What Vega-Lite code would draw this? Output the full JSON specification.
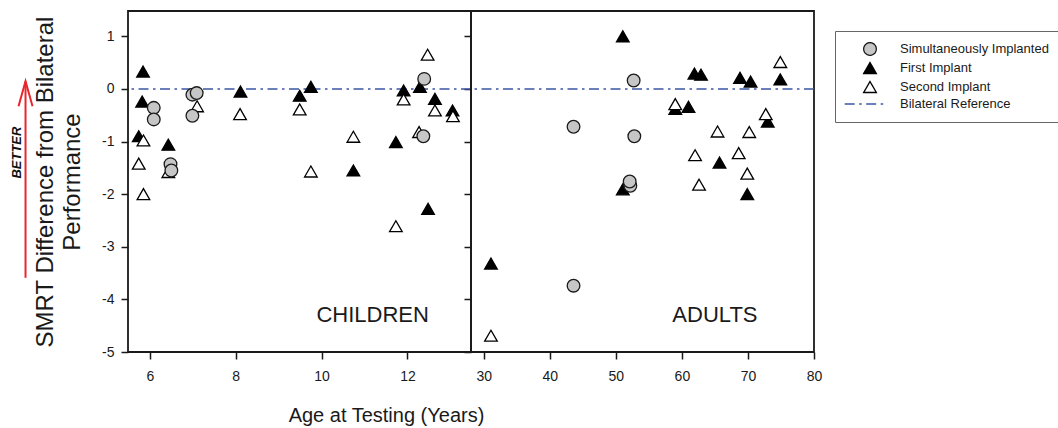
{
  "$schema": "https://vega.github.io/schema/vega-lite/v6.json",
  "padding": {"left": 10, "top": 10, "right": 0, "bottom": 0},
  "background": "white",
  "spacing": 0,
  "bounds": "flush",
  "datasets": {
    "pts": [
      {"panel": "Children", "group": "First Implant", "age": 5.84, "smrt": 0.33},
      {"panel": "Children", "group": "First Implant", "age": 5.82, "smrt": -0.24},
      {"panel": "Children", "group": "First Implant", "age": 5.74, "smrt": -0.9},
      {"panel": "Children", "group": "First Implant", "age": 6.43, "smrt": -1.06},
      {"panel": "Children", "group": "First Implant", "age": 8.11, "smrt": -0.05},
      {"panel": "Children", "group": "First Implant", "age": 9.49, "smrt": -0.13},
      {"panel": "Children", "group": "First Implant", "age": 9.75, "smrt": 0.04},
      {"panel": "Children", "group": "First Implant", "age": 10.74, "smrt": -1.55},
      {"panel": "Children", "group": "First Implant", "age": 11.73, "smrt": -1.01},
      {"panel": "Children", "group": "First Implant", "age": 11.91, "smrt": -0.03},
      {"panel": "Children", "group": "First Implant", "age": 12.29, "smrt": 0.04},
      {"panel": "Children", "group": "First Implant", "age": 12.64, "smrt": -0.19},
      {"panel": "Children", "group": "First Implant", "age": 13.05, "smrt": -0.41},
      {"panel": "Children", "group": "First Implant", "age": 12.48, "smrt": -2.28},
      {"panel": "Children", "group": "Second Implant", "age": 12.47, "smrt": 0.65},
      {"panel": "Children", "group": "Second Implant", "age": 5.74, "smrt": -1.42},
      {"panel": "Children", "group": "Second Implant", "age": 5.85, "smrt": -0.98},
      {"panel": "Children", "group": "Second Implant", "age": 5.85, "smrt": -2.0},
      {"panel": "Children", "group": "Second Implant", "age": 6.43, "smrt": -1.58},
      {"panel": "Children", "group": "Second Implant", "age": 7.1, "smrt": -0.33},
      {"panel": "Children", "group": "Second Implant", "age": 8.1, "smrt": -0.48},
      {"panel": "Children", "group": "Second Implant", "age": 9.49, "smrt": -0.39},
      {"panel": "Children", "group": "Second Implant", "age": 9.75, "smrt": -1.57},
      {"panel": "Children", "group": "Second Implant", "age": 10.74, "smrt": -0.91},
      {"panel": "Children", "group": "Second Implant", "age": 11.91, "smrt": -0.2},
      {"panel": "Children", "group": "Second Implant", "age": 12.27, "smrt": -0.82},
      {"panel": "Children", "group": "Second Implant", "age": 12.64, "smrt": -0.41},
      {"panel": "Children", "group": "Second Implant", "age": 13.06, "smrt": -0.52},
      {"panel": "Children", "group": "Second Implant", "age": 11.73, "smrt": -2.61},
      {"panel": "Children", "group": "Simultaneously Implanted", "age": 6.09, "smrt": -0.36},
      {"panel": "Children", "group": "Simultaneously Implanted", "age": 6.09, "smrt": -0.58},
      {"panel": "Children", "group": "Simultaneously Implanted", "age": 6.48, "smrt": -1.43},
      {"panel": "Children", "group": "Simultaneously Implanted", "age": 6.5, "smrt": -1.55},
      {"panel": "Children", "group": "Simultaneously Implanted", "age": 6.99, "smrt": -0.11},
      {"panel": "Children", "group": "Simultaneously Implanted", "age": 7.09, "smrt": -0.08},
      {"panel": "Children", "group": "Simultaneously Implanted", "age": 6.99, "smrt": -0.51},
      {"panel": "Children", "group": "Simultaneously Implanted", "age": 12.39, "smrt": 0.19},
      {"panel": "Children", "group": "Simultaneously Implanted", "age": 12.37, "smrt": -0.9},
      {"panel": "Adults", "group": "First Implant", "age": 51.06, "smrt": 1.0},
      {"panel": "Adults", "group": "First Implant", "age": 61.9, "smrt": 0.29},
      {"panel": "Adults", "group": "First Implant", "age": 62.9, "smrt": 0.27},
      {"panel": "Adults", "group": "First Implant", "age": 68.8, "smrt": 0.21},
      {"panel": "Adults", "group": "First Implant", "age": 70.4, "smrt": 0.14},
      {"panel": "Adults", "group": "First Implant", "age": 74.9, "smrt": 0.18},
      {"panel": "Adults", "group": "First Implant", "age": 59.0, "smrt": -0.38},
      {"panel": "Adults", "group": "First Implant", "age": 61.0, "smrt": -0.34},
      {"panel": "Adults", "group": "First Implant", "age": 73.0, "smrt": -0.62},
      {"panel": "Adults", "group": "First Implant", "age": 65.7, "smrt": -1.4},
      {"panel": "Adults", "group": "First Implant", "age": 51.06, "smrt": -1.91},
      {"panel": "Adults", "group": "First Implant", "age": 69.9, "smrt": -2.0},
      {"panel": "Adults", "group": "First Implant", "age": 31.1, "smrt": -3.32},
      {"panel": "Adults", "group": "Second Implant", "age": 74.9, "smrt": 0.51},
      {"panel": "Adults", "group": "Second Implant", "age": 59.0, "smrt": -0.29},
      {"panel": "Adults", "group": "Second Implant", "age": 72.7, "smrt": -0.48},
      {"panel": "Adults", "group": "Second Implant", "age": 65.4, "smrt": -0.81},
      {"panel": "Adults", "group": "Second Implant", "age": 70.2, "smrt": -0.82},
      {"panel": "Adults", "group": "Second Implant", "age": 62.0, "smrt": -1.26},
      {"panel": "Adults", "group": "Second Implant", "age": 68.6, "smrt": -1.22},
      {"panel": "Adults", "group": "Second Implant", "age": 69.9, "smrt": -1.61},
      {"panel": "Adults", "group": "Second Implant", "age": 62.6, "smrt": -1.82},
      {"panel": "Adults", "group": "Second Implant", "age": 31.1, "smrt": -4.69},
      {"panel": "Adults", "group": "Simultaneously Implanted", "age": 52.7, "smrt": 0.16},
      {"panel": "Adults", "group": "Simultaneously Implanted", "age": 43.6, "smrt": -0.72},
      {"panel": "Adults", "group": "Simultaneously Implanted", "age": 52.8, "smrt": -0.9},
      {"panel": "Adults", "group": "Simultaneously Implanted", "age": 52.2, "smrt": -1.84},
      {"panel": "Adults", "group": "Simultaneously Implanted", "age": 52.1, "smrt": -1.76},
      {"panel": "Adults", "group": "Simultaneously Implanted", "age": 43.6, "smrt": -3.74}
    ],
    "ref": [{"group": "Bilateral Reference", "ref": 0}],
    "one": [{}]
  },
  "config": {
    "view": {"stroke": "#1a1a1a", "strokeWidth": 1.8},
    "font": "Liberation Sans",
    "axis": {
      "domain": false, "grid": false, "tickSize": 7, "tickWidth": 1.5, "tickColor": "#1a1a1a",
      "labelFont": "Liberation Sans", "labelFontSize": 14, "labelColor": "#1a1a1a", "labelFlush": false,
      "titleFont": "Liberation Sans", "titleFontWeight": "normal", "titleColor": "#1a1a1a"
    },
    "legend": {
      "orient": "none", "legendX": 707, "legendY": 20, "padding": 11,
      "strokeColor": "#666666", "strokeWidth": 1, "fillColor": "white",
      "labelFont": "Liberation Sans", "labelFontSize": 13, "labelColor": "#1a1a1a",
      "symbolSize": 160, "symbolStrokeWidth": 1.3, "symbolOffset": 17, "labelOffset": 23, "rowPadding": 1
    }
  },
  "hconcat": [
    {
      "width": 343, "height": 341,
      "resolve": {"axis": {"y": "independent"}},
      "layer": [
        {
          "data": {"name": "ref"},
          "mark": {"type": "rule", "strokeWidth": 1.5},
          "encoding": {
            "y": {"field": "ref", "type": "quantitative", "scale": {"domain": [-5, 1.48], "nice": false, "zero": false},
                  "axis": {"orient": "right", "values": [-5, -4, -3, -2, -1, 0, 1], "labels": false, "title": null, "offset": -7, "tickSize": 7, "minExtent": 0, "maxExtent": 0}},
            "stroke": {"field": "group", "type": "nominal", "legend": {"title": null},
                       "scale": {"domain": ["Simultaneously Implanted", "First Implant", "Second Implant", "Bilateral Reference"], "range": ["#1a1a1a", "#000000", "#000000", "#3b55a5"]}},
            "strokeDash": {"field": "group", "type": "nominal", "legend": {"title": null},
                       "scale": {"domain": ["Simultaneously Implanted", "First Implant", "Second Implant", "Bilateral Reference"], "range": [[1, 0], [1, 0], [1, 0], [10, 4.5, 2.5, 4.5]]}}
          }
        },
        {
          "layer": [
            {
              "data": {"name": "pts"},
              "transform": [{"filter": "datum.panel === 'Children'"}],
              "mark": {"type": "point", "filled": true, "opacity": 1, "strokeWidth": 1.3, "size": 160},
              "encoding": {
                "x": {"field": "age", "type": "quantitative", "scale": {"domain": [5.49, 13.48], "nice": false, "zero": false},
                      "axis": {"values": [6, 8, 10, 12], "labelPadding": 10, "title": "Age at Testing (Years)", "titleFontSize": 20,
                               "titleX": 258, "titleY": 69, "titleBaseline": "alphabetic", "titleAlign": "center"}},
                "y": {"field": "smrt", "type": "quantitative", "scale": {"domain": [-5, 1.48], "nice": false, "zero": false},
                      "axis": {"orient": "left", "values": [-5, -4, -3, -2, -1, 0, 1], "labelExpr": "'' + datum.value", "labelPadding": 7,
                               "title": ["SMRT Difference from Bilateral", "Performance"], "titleFontSize": 24, "titleLineHeight": 27,
                               "titleX": -70.6, "titleBaseline": "bottom"}},
                "shape": {"field": "group", "type": "nominal", "legend": {"title": null},
                          "scale": {"domain": ["Simultaneously Implanted", "First Implant", "Second Implant", "Bilateral Reference"], "range": ["circle", "triangle-up", "triangle-up", "M-4,0L2.7,0"]}},
                "fill": {"field": "group", "type": "nominal", "legend": {"title": null},
                         "scale": {"domain": ["Simultaneously Implanted", "First Implant", "Second Implant", "Bilateral Reference"], "range": ["#c6c6c6", "#000000", "#ffffff", "#ffffff"]}},
                "stroke": {"field": "group", "type": "nominal", "legend": {"title": null},
                           "scale": {"domain": ["Simultaneously Implanted", "First Implant", "Second Implant", "Bilateral Reference"], "range": ["#1a1a1a", "#000000", "#000000", "#3b55a5"]}}
              }
            },
            {
              "data": {"name": "one"},
              "mark": {"type": "rule", "stroke": "#e8262b", "strokeWidth": 2},
              "encoding": {
                "x": {"datum": 3.103, "type": "quantitative"},
                "y": {"datum": -3.59, "type": "quantitative"},
                "y2": {"datum": 0.14}
              }
            },
            {
              "data": {"name": "one"},
              "mark": {"type": "point", "shape": "M-0.56,1L0,-1L0.56,1", "size": 625, "filled": false, "stroke": "#e8262b", "strokeWidth": 2, "opacity": 1},
              "encoding": {
                "x": {"datum": 3.103, "type": "quantitative"},
                "y": {"datum": -0.093, "type": "quantitative"}
              }
            },
            {
              "data": {"name": "one"},
              "mark": {"type": "text", "text": "BETTER", "angle": 270, "fontSize": 13, "fontWeight": "bold", "fontStyle": "italic", "align": "center", "baseline": "middle", "color": "#111111"},
              "encoding": {
                "x": {"datum": 2.909, "type": "quantitative"},
                "y": {"datum": -1.211, "type": "quantitative"}
              }
            },
            {
              "data": {"name": "one"},
              "mark": {"type": "text", "text": "CHILDREN", "fontSize": 22, "align": "center", "baseline": "middle", "color": "#1a1a1a"},
              "encoding": {
                "x": {"datum": 11.19, "type": "quantitative"},
                "y": {"datum": -4.29, "type": "quantitative"}
              }
            }
          ]
        }
      ]
    },
    {
      "width": 343, "height": 341,
      "layer": [
        {
          "data": {"name": "ref"},
          "mark": {"type": "rule", "strokeWidth": 1.5},
          "encoding": {
            "y": {"field": "ref", "type": "quantitative", "scale": {"domain": [-5, 1.48], "nice": false, "zero": false}, "axis": null},
            "stroke": {"field": "group", "type": "nominal", "legend": {"title": null},
                       "scale": {"domain": ["Simultaneously Implanted", "First Implant", "Second Implant", "Bilateral Reference"], "range": ["#1a1a1a", "#000000", "#000000", "#3b55a5"]}},
            "strokeDash": {"field": "group", "type": "nominal", "legend": {"title": null},
                       "scale": {"domain": ["Simultaneously Implanted", "First Implant", "Second Implant", "Bilateral Reference"], "range": [[1, 0], [1, 0], [1, 0], [10, 4.5, 2.5, 4.5]]}}
          }
        },
        {
          "data": {"name": "pts"},
          "transform": [{"filter": "datum.panel === 'Adults'"}],
          "mark": {"type": "point", "filled": true, "opacity": 1, "strokeWidth": 1.3, "size": 160},
          "encoding": {
            "x": {"field": "age", "type": "quantitative", "scale": {"domain": [28.08, 80], "nice": false, "zero": false},
                  "axis": {"values": [30, 40, 50, 60, 70, 80], "labelPadding": 10, "title": null}},
            "y": {"field": "smrt", "type": "quantitative", "scale": {"domain": [-5, 1.48], "nice": false, "zero": false}, "axis": null},
            "shape": {"field": "group", "type": "nominal", "legend": {"title": null},
                      "scale": {"domain": ["Simultaneously Implanted", "First Implant", "Second Implant", "Bilateral Reference"], "range": ["circle", "triangle-up", "triangle-up", "M-4,0L2.7,0"]}},
            "fill": {"field": "group", "type": "nominal", "legend": {"title": null},
                     "scale": {"domain": ["Simultaneously Implanted", "First Implant", "Second Implant", "Bilateral Reference"], "range": ["#c6c6c6", "#000000", "#ffffff", "#ffffff"]}},
            "stroke": {"field": "group", "type": "nominal", "legend": {"title": null},
                       "scale": {"domain": ["Simultaneously Implanted", "First Implant", "Second Implant", "Bilateral Reference"], "range": ["#1a1a1a", "#000000", "#000000", "#3b55a5"]}}
          }
        },
        {
          "data": {"name": "one"},
          "mark": {"type": "text", "text": "ADULTS", "fontSize": 22, "align": "center", "baseline": "middle", "color": "#1a1a1a"},
          "encoding": {
            "x": {"datum": 65.0, "type": "quantitative"},
            "y": {"datum": -4.29, "type": "quantitative", "axis": null}
          }
        }
      ]
    }
  ]
}
